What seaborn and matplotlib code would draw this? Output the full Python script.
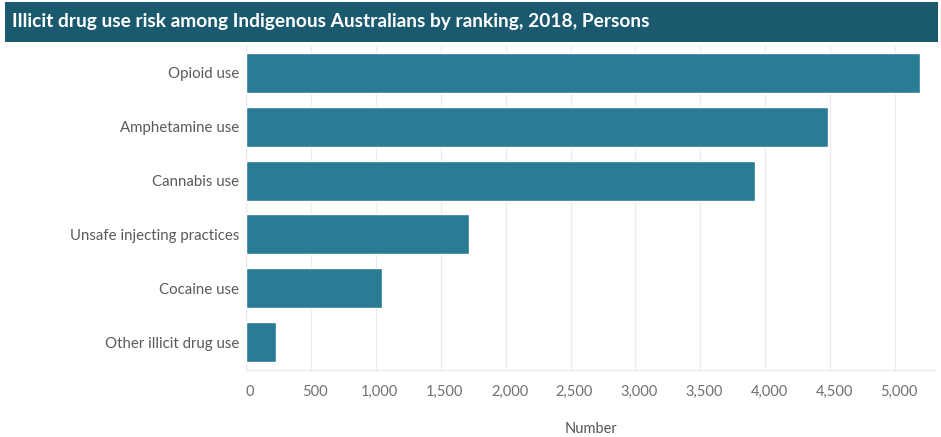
import matplotlib
matplotlib.use("Agg")
import matplotlib.pyplot as plt
import matplotlib.transforms as mtransforms
from matplotlib.patches import Rectangle
import seaborn as sns
import pandas as pd

categories = ["Opioid use", "Amphetamine use", "Cannabis use",
              "Unsafe injecting practices", "Cocaine use", "Other illicit drug use"]
values = [5190, 4480, 3920, 1720, 1050, 230]
tick_values = [0, 500, 1000, 1500, 2000, 2500, 3000, 3500, 4000, 4500, 5000]
tick_labels = ["0", "500", "1,000", "1,500", "2,000", "2,500", "3,000",
               "3,500", "4,000", "4,500", "5,000"]
title = "Illicit drug use risk among Indigenous Australians by ranking, 2018, Persons"

df = pd.DataFrame({"Category": categories, "Number": values})

sns.set_theme(style="white")
plt.rcParams["font.family"] = ["Lato", "DejaVu Sans"]

W, H = 941, 437
fig = plt.figure(figsize=(W / 100, H / 100), dpi=100)
fig.patch.set_facecolor("white")

# header band
fig.patches.append(Rectangle((5 / W, 1 - 42 / H), 933 / W, 40 / H,
                             transform=fig.transFigure, facecolor="#1b5a6e",
                             edgecolor="none", zorder=0))
fig.text(12 / W, 1 - 21 / H, title, color="white", fontsize=13.8,
         fontweight="bold", va="center", ha="left", family=["Lato", "DejaVu Sans"])

ax = fig.add_axes([246 / W, 1 - 370 / H, (935 - 246) / W, (370 - 45) / H])
sns.barplot(data=df, x="Number", y="Category", order=categories,
            color="#2a7b94", saturation=1, width=0.74, ax=ax, zorder=3)

ax.set_xlim(0, 5308)
ax.set_ylim(5.52, -0.52)
ax.set_xticks(tick_values)
ax.set_xticklabels(tick_labels)
ax.xaxis.grid(True, color="#ededed", linewidth=0.9, zorder=0)
ax.set_axisbelow(True)

for s in ["top", "right"]:
    ax.spines[s].set_visible(False)
for s in ["left", "bottom"]:
    ax.spines[s].set_color("#e8e8e8")
    ax.spines[s].set_linewidth(0.9)

ax.tick_params(axis="x", length=0, pad=11, labelsize=10.5, labelcolor="#707070")
ax.tick_params(axis="y", length=0, pad=5, labelsize=10.8, labelcolor="#5a5a5a")

# nudge the value labels slightly right of their gridlines
shift = mtransforms.ScaledTranslation(4 / 100, 0, fig.dpi_scale_trans)
for lbl in ax.get_xticklabels():
    lbl.set_transform(lbl.get_transform() + shift)

ax.set_ylabel("")
ax.set_xlabel("Number", fontsize=10.5, color="#555555", labelpad=16.5)

fig.savefig("out.png", dpi=100)
